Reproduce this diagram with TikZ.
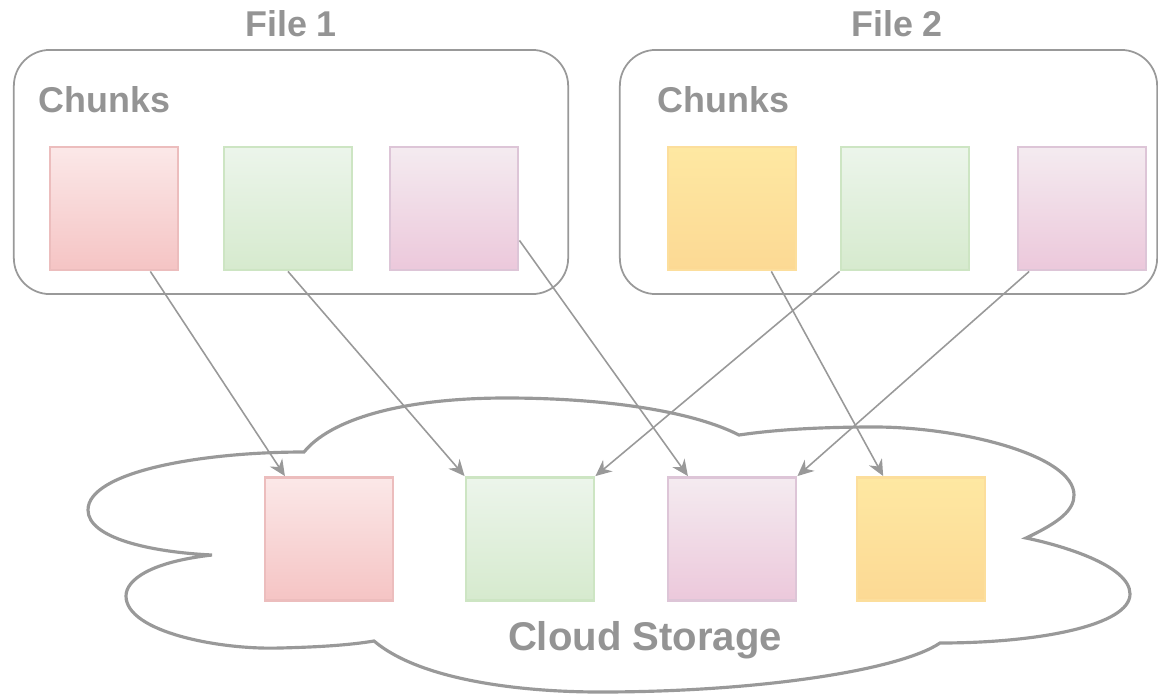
\documentclass[tikz,border=0pt]{standalone}
\usepackage{fontspec}
\setmainfont{Liberation Sans}
\usetikzlibrary{arrows.meta}
\definecolor{qqgray}{rgb}{0.6,0.6,0.6}
\definecolor{txgray}{rgb}{0.58,0.58,0.58}
\definecolor{rrtop}{HTML}{FBE8E8}
\definecolor{rrbot}{HTML}{F5C4C4}
\definecolor{rrline}{HTML}{ECBDBD}
\definecolor{ggtop}{HTML}{ECF5EB}
\definecolor{ggbot}{HTML}{D6EACE}
\definecolor{ggline}{HTML}{CDE5C3}
\definecolor{pptop}{HTML}{F4EBF0}
\definecolor{ppbot}{HTML}{ECC8DB}
\definecolor{ppline}{HTML}{DDC5D7}
\definecolor{yytop}{HTML}{FEE8A2}
\definecolor{yybot}{HTML}{FCD994}
\definecolor{yyline}{HTML}{FCDE9C}

\begin{document}
\begin{tikzpicture}[x=0.01cm,y=-0.01cm,
	chunk/.style={draw,line width=0.8pt,inner sep=0pt,minimum width=1.28cm,minimum height=1.23cm},
	redchunk/.style={chunk,draw=rrline,top color=rrtop,bottom color=rrbot},
	greenchunk/.style={chunk,draw=ggline,top color=ggtop,bottom color=ggbot},
	pinkchunk/.style={chunk,draw=ppline,top color=pptop,bottom color=ppbot},
	yellowchunk/.style={chunk,draw=yyline,top color=yytop,bottom color=yybot},
	filebox/.style={draw=qqgray,line width=0.5pt,rounded corners=0.36cm,inner sep=0pt,minimum width=5.54cm,minimum height=2.44cm},
	link/.style={-{Stealth[length=4.6pt,width=4.2pt]},color=qqgray,line width=0.45pt},
	lbl/.style={color=txgray,font=\bfseries\fontsize{10.2}{12}\selectfont}]
		\useasboundingbox (0,0) rectangle (1158,694);
		\draw[color=qqgray,line width=0.9pt] (304,452) .. controls (200,452) and (88,472) .. (88,510)
			.. controls (88,538) and (150,552) .. (212,555)
			.. controls (150,562) and (126,580) .. (126,596)
			.. controls (126,632) and (220,650) .. (280,648)
			.. controls (320,647) and (350,645) .. (374,641)
			.. controls (420,680) and (520,692) .. (600,692)
			.. controls (760,692) and (900,670) .. (940,643)
			.. controls (1040,643) and (1130,625) .. (1130,594)
			.. controls (1130,565) and (1060,545) .. (1026,538)
			.. controls (1060,522) and (1074,510) .. (1074,495)
			.. controls (1074,455) and (960,427) .. (875,427)
			.. controls (800,427) and (760,432) .. (739,435)
			.. controls (690,410) and (600,398) .. (506,398)
			.. controls (400,398) and (330,420) .. (304,452) -- cycle;
		\node[filebox] (file1) at (291,172) {};
		\node[filebox,minimum width=5.37cm] (file2) at (888.5,172) {};
		\node[lbl] (title1) at (291,24) {File 1};
		\node[lbl] (title2) at (897,24) {File 2};
		\node[lbl,anchor=base west,inner sep=0pt] (chunks1) at (38,112) {Chunks};
		\node[lbl,anchor=base west,inner sep=0pt] (chunks2) at (657,112) {Chunks};
		\node[redchunk] (a1) at (114,208.5) {};
		\node[greenchunk] (a2) at (288,208.5) {};
		\node[pinkchunk] (a3) at (454,208.5) {};
		\node[yellowchunk] (b1) at (732,208.5) {};
		\node[greenchunk] (b2) at (905,208.5) {};
		\node[pinkchunk] (b3) at (1082,208.5) {};
		\node[redchunk] (s1) at (329,539) {};
		\node[greenchunk] (s2) at (530,539) {};
		\node[pinkchunk] (s3) at (732,539) {};
		\node[yellowchunk] (s4) at (921,539) {};
		\node[lbl,font=\bfseries\fontsize{11.4}{13}\selectfont] (cloud) at (645,640) {Cloud Storage};
		\draw[link] (a1.-60) -- (s1.125);
		\draw[link] (a2.south) -- (s2.north west);
		\draw[link] (a3.-26) -- (s3.125);
		\draw[link] (b1.-58) -- (s4.121);
		\draw[link] (b2.south west) -- (s2.north east);
		\draw[link] (b3.-130) -- (s3.north east);
\end{tikzpicture}
\end{document}
